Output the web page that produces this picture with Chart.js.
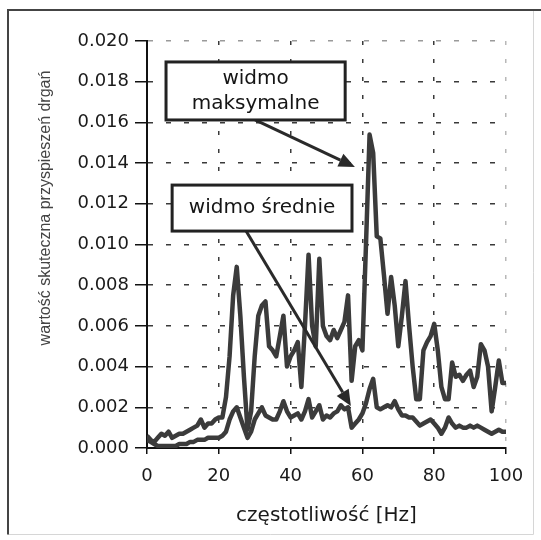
<!DOCTYPE html>
<html>
<head>
<meta charset="utf-8">
<script src="https://cdn.jsdelivr.net/npm/chart.js@4.4.1/dist/chart.umd.min.js"></script>
<style>
  html, body { margin: 0; padding: 0; background: #ffffff; }
  #wrap { width: 541px; height: 540px; position: relative; }
</style>
</head>
<body>
<div id="wrap"><canvas id="c" width="541" height="540"></canvas></div>
<script>
// Frequency [Hz]
const freq = [0,1,2,3,4,5,6,7,8,9,10,11,12,13,14,15,16,17,18,19,20,21,22,23,24,25,26,27,28,29,30,31,32,33,34,35,36,37,38,39,40,41,42,43,44,45,46,47,48,49,50,51,52,53,54,55,56,57,58,59,60,61,62,63,64,65,66,67,68,69,70,71,72,73,74,75,76,77,78,79,80,81,82,83,84,85,86,87,88,89,90,91,92,93,94,95,96,97,98,99,100];

// widmo maksymalne
const maxSpectrum = [0.0006,0.0004,0.0003,0.0005,0.0007,0.0006,0.0008,0.0005,0.0006,0.0007,
  0.0007,0.0008,0.0009,0.0010,0.0011,0.0014,0.0010,0.0012,0.0012,0.0014,
  0.0015,0.0015,0.0025,0.0045,0.0075,0.0089,0.0065,0.0035,0.0009,0.0018,
  0.0045,0.0065,0.0070,0.0072,0.0050,0.0048,0.0045,0.0055,0.0065,0.0040,
  0.0045,0.0048,0.0052,0.0030,0.0060,0.0095,0.0060,0.0050,0.0093,0.0060,
  0.0055,0.0053,0.0058,0.0054,0.0058,0.0062,0.0075,0.0033,0.0050,0.0053,
  0.0048,0.0100,0.0154,0.0145,0.0104,0.0103,0.0085,0.0066,0.0084,0.0070,
  0.0050,0.0065,0.0082,0.0060,0.0040,0.0024,0.0024,0.0048,0.0052,0.0055,
  0.0061,0.0048,0.0030,0.0024,0.0024,0.0042,0.0035,0.0036,0.0033,0.0036,
  0.0038,0.0030,0.0035,0.0051,0.0048,0.0040,0.0018,0.0030,0.0043,0.0032,
  0.0032];

// widmo średnie
const meanSpectrum = [0.0004,0.0003,0.0002,0.0001,0.0001,0.0001,0.0001,0.0001,0.0001,0.0002,
  0.0002,0.0002,0.0003,0.0003,0.0004,0.0004,0.0004,0.0005,0.0005,0.0005,
  0.0005,0.0006,0.0008,0.0014,0.0018,0.0020,0.0015,0.0010,0.0005,0.0008,
  0.0014,0.0017,0.0020,0.0016,0.0015,0.0014,0.0014,0.0018,0.0023,0.0018,
  0.0015,0.0016,0.0017,0.0014,0.0018,0.0024,0.0015,0.0018,0.0021,0.0014,
  0.0016,0.0015,0.0017,0.0018,0.0021,0.0019,0.0020,0.0010,0.0012,0.0014,
  0.0017,0.0022,0.0029,0.0034,0.0020,0.0019,0.0020,0.0021,0.0020,0.0023,
  0.0019,0.0016,0.0016,0.0015,0.0015,0.0013,0.0011,0.0012,0.0013,0.0014,
  0.0012,0.0010,0.0007,0.0010,0.0015,0.0012,0.0010,0.0011,0.0010,0.0010,
  0.0011,0.0010,0.0011,0.0010,0.0009,0.0008,0.0007,0.0008,0.0009,0.0008,
  0.0008];

const xTicks = [0, 20, 40, 60, 80, 100];
const yTickStep = 0.002;
const xTitle = 'częstotliwość [Hz]';
const yTitle = 'wartość skuteczna przyspieszeń drgań';

const labelMax = ['widmo', 'maksymalne'];
const labelMean = ['widmo średnie'];

const toPts = (vals) => freq.map((f, i) => ({ x: f, y: vals[i] }));

const LINE = '#3b3b3b';
const GRID = '#3a3a3a';
const TICKFONT = { family: 'DejaVu Sans', size: 18 };

// annotation boxes/arrows, in data coordinates
const notes = [
  { lines: labelMax, x0: 5.3, x1: 55.2, y0: 0.01612, y1: 0.01897,
    arrow: { fx: 30.1, fy: 0.01612, tx: 57.9, ty: 0.01381 } },
  { lines: labelMean, x0: 7.0, x1: 57.1, y0: 0.01066, y1: 0.01292,
    arrow: { fx: 27.6, fy: 0.01066, tx: 56.8, ty: 0.00206 } }
];

const decor = {
  id: 'decor',
  beforeDraw(chart) {
    const ctx = chart.ctx;
    ctx.save();
    ctx.fillStyle = '#ffffff';
    ctx.fillRect(0, 0, chart.width, chart.height);
    // outer frame
    ctx.strokeStyle = '#d6d6d6';
    ctx.lineWidth = 1;
    ctx.beginPath();
    ctx.moveTo(533.5, 10); ctx.lineTo(533.5, 534.5); ctx.lineTo(8, 534.5);
    ctx.stroke();
    ctx.strokeStyle = '#444';
    ctx.lineWidth = 2;
    ctx.beginPath();
    ctx.moveTo(8, 534.5); ctx.lineTo(8, 10); ctx.lineTo(541, 10);
    ctx.stroke();
    ctx.restore();
  },
  afterDatasetsDraw(chart) {
    const ctx = chart.ctx;
    const xs = chart.scales.x, ys = chart.scales.y;
    const area = chart.chartArea;
    ctx.save();
    notes.forEach(n => {
      const a = n.arrow;
      const fx = xs.getPixelForValue(a.fx), fy = ys.getPixelForValue(a.fy);
      const tx = xs.getPixelForValue(a.tx), ty = ys.getPixelForValue(a.ty);
      const ang = Math.atan2(ty - fy, tx - fx);
      const hl = 16, hw = 7;
      const bx = tx - hl * Math.cos(ang), by = ty - hl * Math.sin(ang);
      ctx.strokeStyle = '#2a2a2a';
      ctx.lineWidth = 3;
      ctx.beginPath();
      ctx.moveTo(fx, fy); ctx.lineTo(bx, by);
      ctx.stroke();
      ctx.fillStyle = '#2a2a2a';
      ctx.beginPath();
      ctx.moveTo(tx, ty);
      ctx.lineTo(bx + hw * Math.sin(ang), by - hw * Math.cos(ang));
      ctx.lineTo(bx - hw * Math.sin(ang), by + hw * Math.cos(ang));
      ctx.closePath();
      ctx.fill();
    });
    notes.forEach(n => {
      const l = xs.getPixelForValue(n.x0), r = xs.getPixelForValue(n.x1);
      const t = ys.getPixelForValue(n.y1), b = ys.getPixelForValue(n.y0);
      ctx.fillStyle = '#ffffff';
      ctx.fillRect(l, t, r - l, b - t);
      ctx.strokeStyle = '#222';
      ctx.lineWidth = 3;
      ctx.strokeRect(l, t, r - l, b - t);
      ctx.fillStyle = '#151515';
      ctx.font = '20px "DejaVu Sans"';
      ctx.textAlign = 'center';
      ctx.textBaseline = 'middle';
      const cx = (l + r) / 2, cy = (t + b) / 2;
      const lh = 25;
      n.lines.forEach((s, i) => {
        ctx.fillText(s, cx, cy + (i - (n.lines.length - 1) / 2) * lh);
      });
    });
    // y axis title
    ctx.fillStyle = '#444';
    ctx.font = '16px "Liberation Sans"';
    ctx.textAlign = 'center';
    ctx.textBaseline = 'middle';
    ctx.translate(46, area.top + 167);
    ctx.rotate(-Math.PI / 2);
    ctx.fillText(yTitle, 0, 0);
    ctx.restore();
  }
};

new Chart(document.getElementById('c'), {
  type: 'line',
  data: {
    datasets: [
      { label: 'widmo maksymalne', data: toPts(maxSpectrum), borderColor: LINE,
        borderWidth: 4.5, pointRadius: 0, tension: 0, fill: false, borderJoinStyle: 'round' },
      { label: 'widmo średnie', data: toPts(meanSpectrum), borderColor: LINE,
        borderWidth: 4.5, pointRadius: 0, tension: 0, fill: false, borderJoinStyle: 'round' }
    ]
  },
  options: {
    responsive: false,
    animation: false,
    layout: { padding: { left: 8, right: 35, top: 41, bottom: 0 } },
    plugins: { legend: { display: false }, tooltip: { enabled: false } },
    scales: {
      x: {
        type: 'linear', min: 0, max: 100,
        afterFit(s) { s.height = 92; },
        afterBuildTicks(s) { s.ticks = xTicks.map(v => ({ value: v })); },
        ticks: { font: TICKFONT, color: '#1a1a1a', padding: 12, maxRotation: 0 },
        grid: {
          color: (c) => (c.tick && c.tick.value === 100) ? '#b8b8b8' : GRID,
          lineWidth: 1.5, tickLength: 6, tickColor: '#111', tickWidth: 1.5
        },
        border: { display: true, color: '#111', width: 2, dash: [4, 14] },
        title: { display: true, text: xTitle, font: { family: 'DejaVu Sans', size: 20 },
          color: '#1a1a1a', padding: { top: 0, bottom: 12 } }
      },
      y: {
        type: 'linear', min: 0, max: 0.02,
        afterFit(s) { s.width = 139; },
        ticks: { stepSize: yTickStep, font: TICKFONT, color: '#1a1a1a', padding: 6,
          callback: (v) => v.toFixed(3) },
        grid: {
          color: (c) => (c.tick && Math.abs(c.tick.value - 0.02) < 1e-9) ? '#9a9a9a' : GRID,
          lineWidth: 1.5, tickLength: 12, tickColor: '#111', tickWidth: 1.5
        },
        border: { display: true, color: '#111', width: 2, dash: [5, 13] }
      }
    }
  },
  plugins: [decor]
});
</script>
</body>
</html>
